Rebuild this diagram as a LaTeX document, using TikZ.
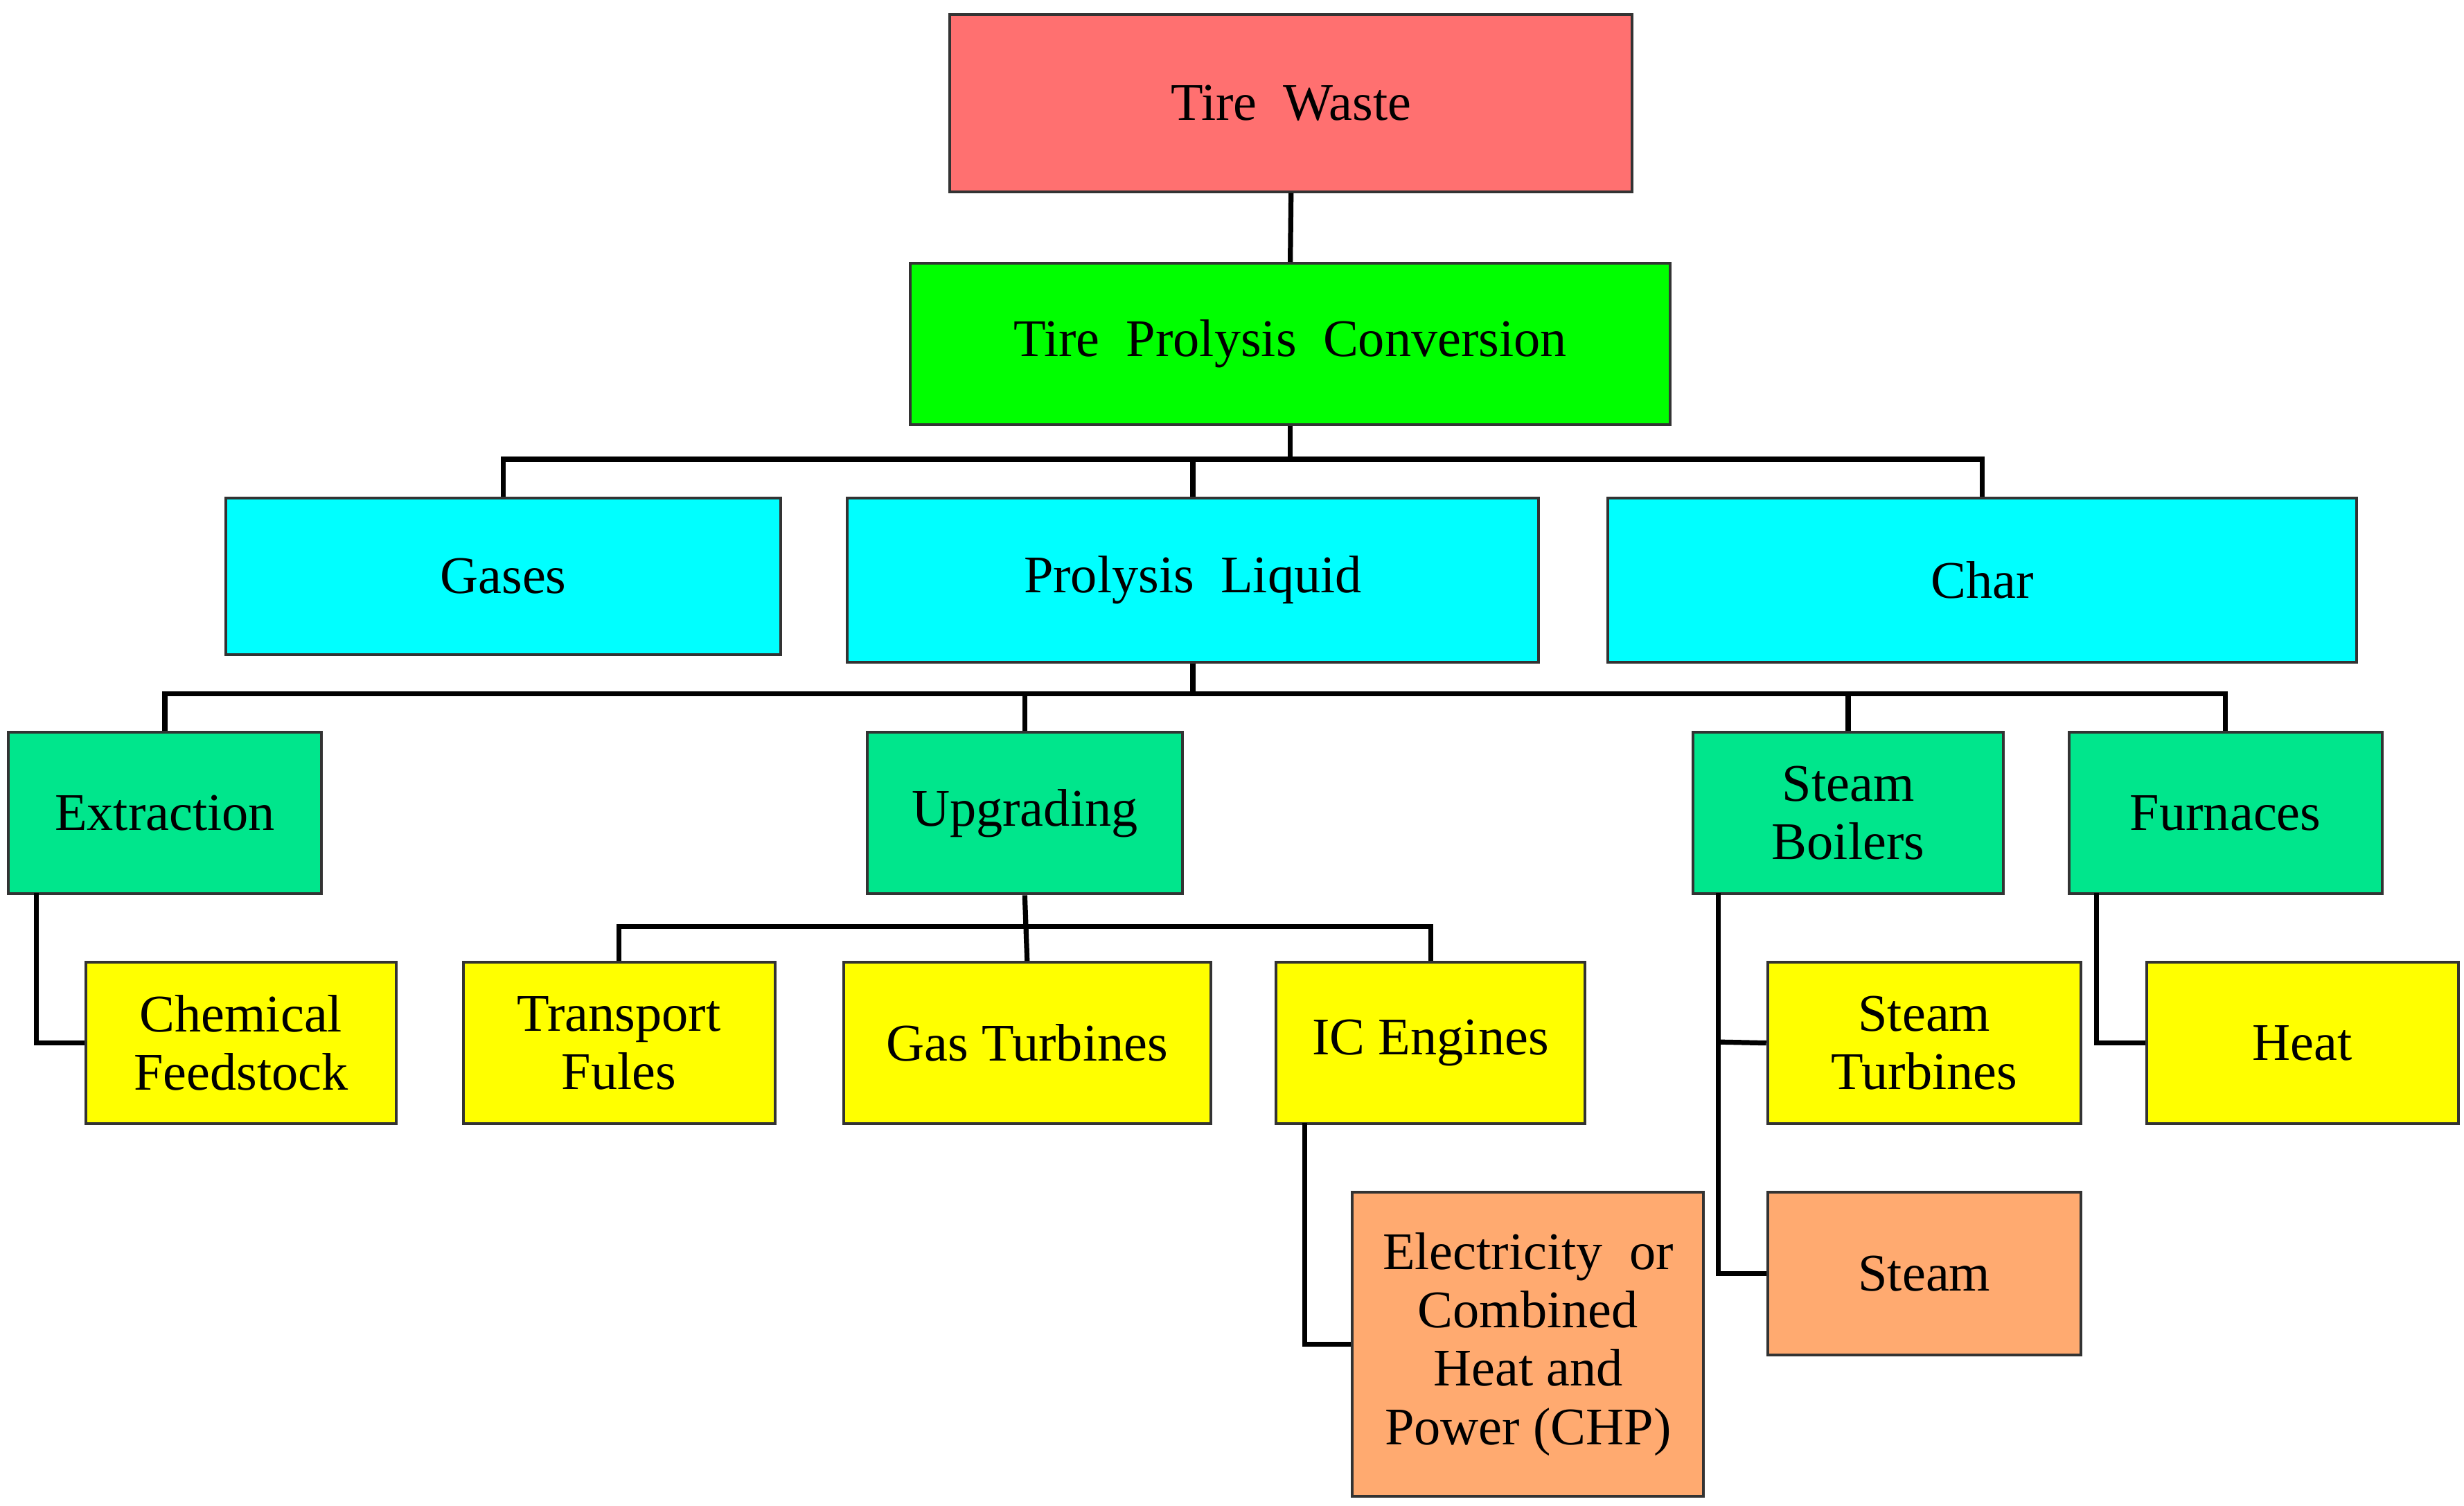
\documentclass[tikz,border=0pt]{standalone}
\usepackage{fontspec}
\setmainfont{Liberation Serif}
\definecolor{cred}{HTML}{FF7070}
\definecolor{cgreen}{HTML}{00FF00}
\definecolor{ccyan}{HTML}{00FFFF}
\definecolor{cmint}{HTML}{00E68C}
\definecolor{cyel}{HTML}{FFFF00}
\definecolor{corange}{HTML}{FFAA70}
\tikzset{bx/.style={draw=black!80,line width=0.5pt,inner sep=0pt,align=center,font=\fontsize{9.5}{10.5}\selectfont},
link/.style={line width=0.9pt,black}}
\newcommand{\bx}[7]{\node[bx,fill=#6,minimum width={(#4-#2)*0.01cm},minimum height={(#5-#3)*0.01cm}] (#1) at ({(#2+#4)*0.005},{-(#3+#5)*0.005}) {#7};}
\begin{document}
\begin{tikzpicture}
\useasboundingbox (0,0) rectangle (15.56,-9.51);
\bx{tw}{599}{9}{1030}{121}{cred}{Tire\ \ Waste}
\bx{tpc}{574}{166}{1054}{268}{cgreen}{Tire\ \ Prolysis\ \ Conversion}
\bx{gas}{142}{314}{493}{413}{ccyan}{Gases}
\bx{pl}{534}{314}{971}{418}{ccyan}{Prolysis\ \ Liquid}
\bx{char}{1014}{314}{1487}{418}{ccyan}{Char}
\bx{ext}{5}{462}{203}{564}{cmint}{Extraction}
\bx{upg}{547}{462}{746}{564}{cmint}{Upgrading}
\bx{sb}{1068}{462}{1264}{564}{cmint}{Steam\\Boilers}
\bx{fur}{1305}{462}{1503}{564}{cmint}{Furnaces}
\bx{cf}{54}{607}{250}{709}{cyel}{Chemical\\Feedstock}
\bx{tf}{292}{607}{489}{709}{cyel}{Transport\\Fules}
\bx{gt}{532}{607}{764}{709}{cyel}{Gas\ Turbines}
\bx{ic}{805}{607}{1000}{709}{cyel}{IC\ Engines}
\bx{st}{1115}{607}{1313}{709}{cyel}{Steam\\Turbines}
\bx{heat}{1354}{607}{1551}{709}{cyel}{Heat}
\bx{chp}{853}{752}{1075}{944}{corange}{Electricity\ \ or\\Combined\\Heat and\\Power (CHP)}
\bx{steam}{1115}{752}{1313}{855}{corange}{Steam}
\coordinate (h1) at (0,-2.90);
\coordinate (h2) at (0,-4.38);
\coordinate (h3) at (0,-5.85);
\draw[link] (tw.south) -- (tpc.north);
\draw[link] (tpc.south) -- (tpc.south |- h1);
\draw[link] (gas.north) -- (gas.north |- h1) -- (char.north |- h1) -- (char.north);
\draw[link] (pl.north) -- (pl.north |- h1);
\draw[link] (pl.south) -- (pl.south |- h2);
\draw[link] (ext.north) -- (ext.north |- h2) -- (fur.north |- h2) -- (fur.north);
\draw[link] (upg.north) -- (upg.north |- h2);
\draw[link] (sb.north) -- (sb.north |- h2);
\draw[link] (upg.south) -- (gt.north);
\draw[link] (tf.north) -- (tf.north |- h3) -- (ic.north |- h3) -- (ic.north);
\draw[link] (0.23,-5.64) |- (cf.west);
\draw[link] (13.24,-5.64) |- (heat.west);
\draw[link] (8.24,-7.09) |- (chp.west);
\draw[link] (10.85,-5.64) |- (steam.west);
\draw[link] (10.85,-6.58) -- (st.west);
\end{tikzpicture}
\end{document}
